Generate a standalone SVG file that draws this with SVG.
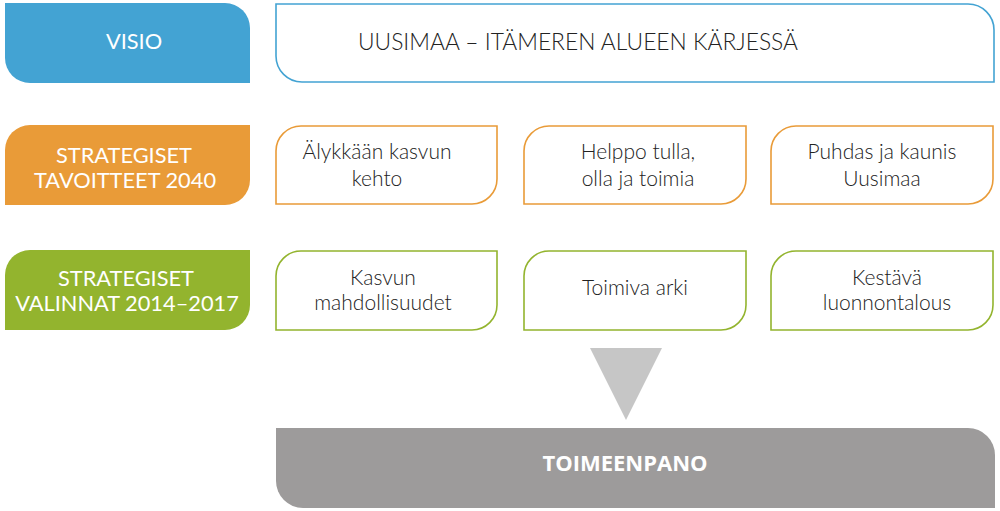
<svg xmlns="http://www.w3.org/2000/svg" width="1000" height="511" viewBox="0 0 1000 511">
<style>
.lab{font-family:Lato,"Open Sans","Liberation Sans",sans-serif;font-size:21.8px;fill:#fff;text-anchor:middle}
.txt{font-family:Lato,"Open Sans","Liberation Sans",sans-serif;font-weight:300;font-size:21px;fill:#222;text-anchor:middle}
.box{fill:#fff;stroke-width:1.6}
</style>
<rect width="1000" height="511" fill="#fff"/>
<g id="visio">
<path d="M5,3 H225 A25,25 0 0 1 250,28 V83 H30 A25,25 0 0 1 5,58 Z" fill="#43a3d3"/>
<text class="lab" x="134" y="49">VISIO</text>
</g>
<g id="visio-text">
<path class="box" d="M276,4 H968 A26,26 0 0 1 994,30 V82 H302 A26,26 0 0 1 276,56 Z" stroke="#43a3d3"/>
<text class="txt" x="578" y="50" style="font-size:22.8px">UUSIMAA – ITÄMEREN ALUEEN KÄRJESSÄ</text>
</g>
<g id="tavoitteet">
<path d="M30,125 H250 V180 A25,25 0 0 1 225,205 H5 V150 A25,25 0 0 1 30,125 Z" fill="#e99b38"/>
<text class="lab" x="124" y="163">STRATEGISET</text>
<text class="lab" x="125" y="188">TAVOITTEET 2040</text>
</g>
<g id="t1">
<path class="box" d="M301,126 H497 V179 A25,25 0 0 1 472,204 H276 V151 A25,25 0 0 1 301,126 Z" stroke="#e99b38"/>
<text class="txt" x="377" y="159">Älykkään kasvun</text>
<text class="txt" x="377" y="186">kehto</text>
</g>
<g id="t2">
<path class="box" d="M549,126 H746 V179 A25,25 0 0 1 721,204 H524 V151 A25,25 0 0 1 549,126 Z" stroke="#e99b38"/>
<text class="txt" x="638" y="159">Helppo tulla,</text>
<text class="txt" x="638" y="186">olla ja toimia</text>
</g>
<g id="t3">
<path class="box" d="M796,126 H993 V179 A25,25 0 0 1 968,204 H771 V151 A25,25 0 0 1 796,126 Z" stroke="#e99b38"/>
<text class="txt" x="882" y="159">Puhdas ja kaunis</text>
<text class="txt" x="882" y="186">Uusimaa</text>
</g>
<g id="valinnat">
<path d="M30,250 H250 V305 A25,25 0 0 1 225,330 H5 V275 A25,25 0 0 1 30,250 Z" fill="#93b42e"/>
<text class="lab" x="126" y="286">STRATEGISET</text>
<text class="lab" x="127" y="311">VALINNAT 2014–2017</text>
</g>
<g id="v1">
<path class="box" d="M301,251 H497 V305 A25,25 0 0 1 472,330 H276 V276 A25,25 0 0 1 301,251 Z" stroke="#93b42e"/>
<text class="txt" x="383" y="285">Kasvun</text>
<text class="txt" x="383" y="310">mahdollisuudet</text>
</g>
<g id="v2">
<path class="box" d="M549,251 H746 V305 A25,25 0 0 1 721,330 H524 V276 A25,25 0 0 1 549,251 Z" stroke="#93b42e"/>
<text class="txt" x="635" y="295">Toimiva arki</text>
</g>
<g id="v3">
<path class="box" d="M796,251 H993 V305 A25,25 0 0 1 968,330 H771 V276 A25,25 0 0 1 796,251 Z" stroke="#93b42e"/>
<text class="txt" x="887" y="285">Kestävä</text>
<text class="txt" x="887" y="310">luonnontalous</text>
</g>
<g id="connectors">
<polygon points="590,348 662,348 626,420" fill="#c6c6c6"/>
</g>
<g id="toimeenpano">
<path d="M276,428 H968 A27,27 0 0 1 995,455 V508 H303 A27,27 0 0 1 276,481 Z" fill="#9d9b9b"/>
<text x="625" y="471" style="font-family:'Open Sans',Lato,'Liberation Sans',sans-serif;font-weight:bold;font-size:22px;fill:#fff;text-anchor:middle">TOIMEENPANO</text>
</g>
</svg>
